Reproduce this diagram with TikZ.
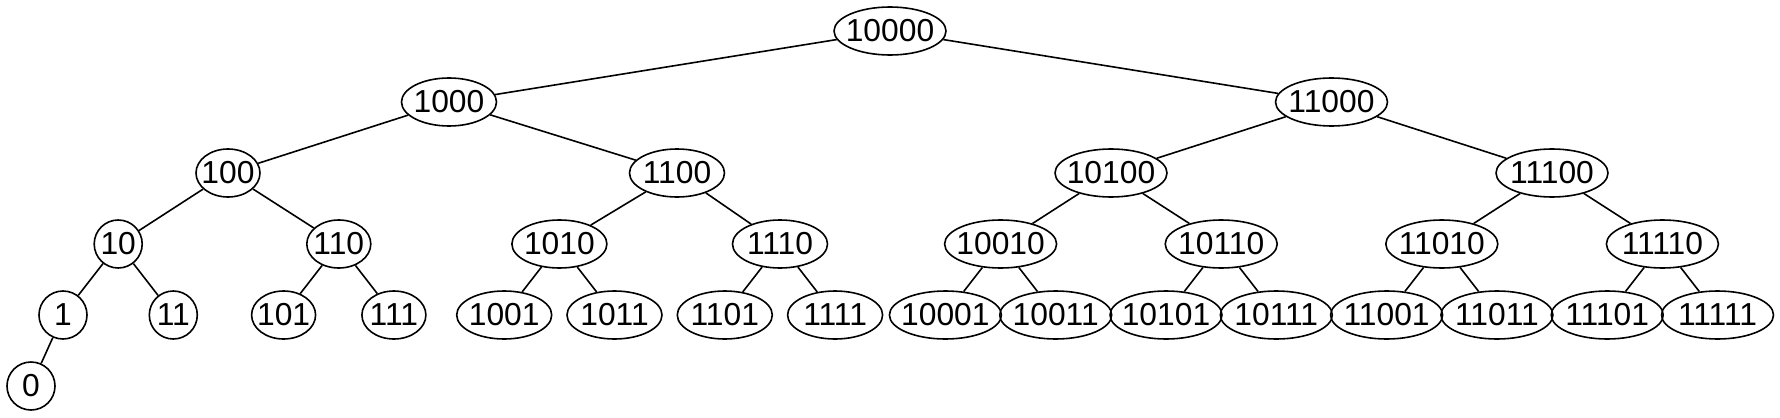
\documentclass[tikz,border=0pt]{standalone}
\usepackage{fontspec}
\setmainfont{Liberation Sans}
\usetikzlibrary{shapes.geometric}

\begin{document}
\begin{tikzpicture}[x=0.5pt, y=-0.5pt,
    font=\fontsize{15.9}{18}\selectfont,
    vertex/.style={ellipse, draw, line width=0.8pt, inner xsep=-3pt, inner ysep=0pt, minimum width=24pt, minimum height=24pt},
    digits3/.style={vertex, minimum width=32pt},
    digits4/.style={vertex, minimum width=47.5pt},
    digits5/.style={vertex, minimum width=56pt},
    link/.style={line width=0.8pt}]
    \useasboundingbox (0,0) rectangle (1780,417);

    % root and upper levels
    \node[digits5] (n10000) at (890,31) {10000};
    \node[digits4] (n1000) at (449,102) {1000};
    \node[digits5] (n11000) at (1331.5,102) {11000};
    \node[digits3] (n100) at (228,173) {100};
    \node[digits4] (n1100) at (677,173) {1100};
    \node[digits5] (n10100) at (1111,173) {10100};
    \node[digits5] (n11100) at (1552,173) {11100};

    \node[vertex] (n10) at (118.2,244) {10};
    \node[digits3] (n110) at (338.8,244) {110};
    \node[digits4] (n1010) at (559.4,244) {1010};
    \node[digits4] (n1110) at (780,244) {1110};
    \node[digits5] (n10010) at (1000.6,244) {10010};
    \node[digits5] (n10110) at (1221.2,244) {10110};
    \node[digits5] (n11010) at (1441.8,244) {11010};
    \node[digits5] (n11110) at (1662.4,244) {11110};

    % leaves
    \node[vertex] (n1) at (63,315) {1};
    \node[vertex] (n11) at (173.3,315) {11};
    \node[digits3] (n101) at (283.6,315) {101};
    \node[digits3] (n111) at (393.9,315) {111};
    \node[digits4] (n1001) at (504.2,315) {1001};
    \node[digits4] (n1011) at (614.5,315) {1011};
    \node[digits4] (n1101) at (724.8,315) {1101};
    \node[digits4] (n1111) at (835.1,315) {1111};
    \node[digits5] (n10001) at (945.4,315) {10001};
    \node[digits5] (n10011) at (1055.7,315) {10011};
    \node[digits5] (n10101) at (1166,315) {10101};
    \node[digits5] (n10111) at (1276.3,315) {10111};
    \node[digits5] (n11001) at (1386.6,315) {11001};
    \node[digits5] (n11011) at (1496.9,315) {11011};
    \node[digits5] (n11101) at (1607.2,315) {11101};
    \node[digits5] (n11111) at (1717.5,315) {11111};
    \node[vertex] (n0) at (31,386) {0};

    % edges
    \draw[link] (n10000) -- (n1000);
    \draw[link] (n10000) -- (n11000);
    \draw[link] (n1000) -- (n100);
    \draw[link] (n1000) -- (n1100);
    \draw[link] (n11000) -- (n10100);
    \draw[link] (n11000) -- (n11100);
    \draw[link] (n100) -- (n10);
    \draw[link] (n100) -- (n110);
    \draw[link] (n1100) -- (n1010);
    \draw[link] (n1100) -- (n1110);
    \draw[link] (n10100) -- (n10010);
    \draw[link] (n10100) -- (n10110);
    \draw[link] (n11100) -- (n11010);
    \draw[link] (n11100) -- (n11110);
    \draw[link] (n10) -- (n1);
    \draw[link] (n10) -- (n11);
    \draw[link] (n110) -- (n101);
    \draw[link] (n110) -- (n111);
    \draw[link] (n1010) -- (n1001);
    \draw[link] (n1010) -- (n1011);
    \draw[link] (n1110) -- (n1101);
    \draw[link] (n1110) -- (n1111);
    \draw[link] (n10010) -- (n10001);
    \draw[link] (n10010) -- (n10011);
    \draw[link] (n10110) -- (n10101);
    \draw[link] (n10110) -- (n10111);
    \draw[link] (n11010) -- (n11001);
    \draw[link] (n11010) -- (n11011);
    \draw[link] (n11110) -- (n11101);
    \draw[link] (n11110) -- (n11111);
    \draw[link] (n1) -- (n0);
\end{tikzpicture}
\end{document}
